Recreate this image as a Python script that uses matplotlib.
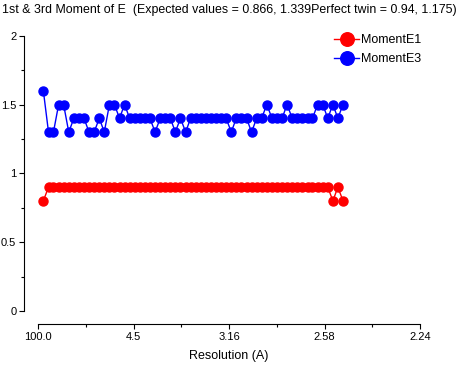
import matplotlib
matplotlib.use("Agg")
import matplotlib.pyplot as plt
from matplotlib.ticker import FixedLocator, MultipleLocator

plt.rcParams['font.family'] = ['Liberation Sans', 'DejaVu Sans']

# resolution bins, in 1/d^2 (bin centres)
inv_d2 = [0.0028, 0.0055, 0.0081, 0.0108, 0.0134, 0.0161, 0.0188, 0.0214, 0.0241, 0.0267,
          0.0294, 0.0321, 0.0347, 0.0374, 0.0400, 0.0427, 0.0453, 0.0480, 0.0507, 0.0533,
          0.0560, 0.0586, 0.0613, 0.0640, 0.0666, 0.0693, 0.0719, 0.0746, 0.0773, 0.0799,
          0.0826, 0.0852, 0.0879, 0.0906, 0.0932, 0.0959, 0.0985, 0.1012, 0.1038, 0.1065,
          0.1092, 0.1118, 0.1145, 0.1171, 0.1198, 0.1225, 0.1251, 0.1278, 0.1304, 0.1331,
          0.1358, 0.1384, 0.1411, 0.1437, 0.1464, 0.1491, 0.1517, 0.1544, 0.1570, 0.1597]

moment_e1 = [0.8] + [0.9] * 56 + [0.8, 0.9, 0.8]

moment_e3 = [1.6, 1.3, 1.3, 1.5, 1.5, 1.3, 1.4, 1.4, 1.4, 1.3,
             1.3, 1.4, 1.3, 1.5, 1.5, 1.4, 1.5, 1.4, 1.4, 1.4,
             1.4, 1.4, 1.3, 1.4, 1.4, 1.4, 1.3, 1.4, 1.3, 1.4,
             1.4, 1.4, 1.4, 1.4, 1.4, 1.4, 1.4, 1.3, 1.4, 1.4,
             1.4, 1.3, 1.4, 1.4, 1.5, 1.4, 1.4, 1.4, 1.5, 1.4,
             1.4, 1.4, 1.4, 1.4, 1.5, 1.5, 1.4, 1.5, 1.4, 1.5]

xtick_pos = [0.0, 0.05, 0.10, 0.15, 0.20]
xtick_labels = ["100.0", "4.5", "3.16", "2.58", "2.24"]
ytick_pos = [0, 0.5, 1, 1.5, 2]
ytick_labels = ["0", "0.5", "1", "1.5", "2"]

W, H = 459, 370
fig = plt.figure(figsize=(W / 100, H / 100), dpi=100)
ax = fig.add_axes([38 / W, (H - 311) / H, (420 - 38) / W, (311 - 35.7) / H])

ax.plot(inv_d2, moment_e1, color="red", lw=1, marker="o", ms=6.5, mec="red", label="MomentE1")
ax.plot(inv_d2, moment_e3, color="blue", lw=1, marker="o", ms=6.5, mec="blue", label="MomentE3")

ax.set_xlim(0, 0.2)
ax.set_ylim(0, 2)

for s in ["top", "right"]:
    ax.spines[s].set_visible(False)
ax.spines["left"].set_position(("outward", 10))
ax.spines["bottom"].set_position(("outward", 9.4))
ax.spines["left"].set_bounds(0, 2)
ax.spines["bottom"].set_bounds(0, 0.2)

ax.xaxis.set_major_locator(FixedLocator(xtick_pos))
ax.set_xticklabels(xtick_labels)
ax.xaxis.set_minor_locator(MultipleLocator(0.025))
ax.yaxis.set_major_locator(FixedLocator(ytick_pos))
ax.set_yticklabels(ytick_labels)
ax.yaxis.set_minor_locator(MultipleLocator(0.25))

ax.tick_params(which="major", direction="out", length=3.6, width=0.8, labelsize=8, pad=2)
ax.tick_params(which="minor", direction="out", length=2, width=0.8)

ax.set_xlabel("Resolution (A)", fontsize=9, labelpad=6)

fig.text(0.5, (H - 10) / H,
         "1st & 3rd Moment of E  (Expected values = 0.866, 1.339Perfect twin = 0.94, 1.175)",
         ha="center", va="center", fontsize=8.9)

leg = ax.legend(loc="upper left", bbox_to_anchor=(334 / W, (H - 34) / H),
                bbox_transform=fig.transFigure, frameon=False, fontsize=9,
                borderpad=0, borderaxespad=0, handlelength=2.0, handletextpad=0.2,
                labelspacing=0.6, markerscale=1.5)

fig.savefig("out.png", dpi=100)
